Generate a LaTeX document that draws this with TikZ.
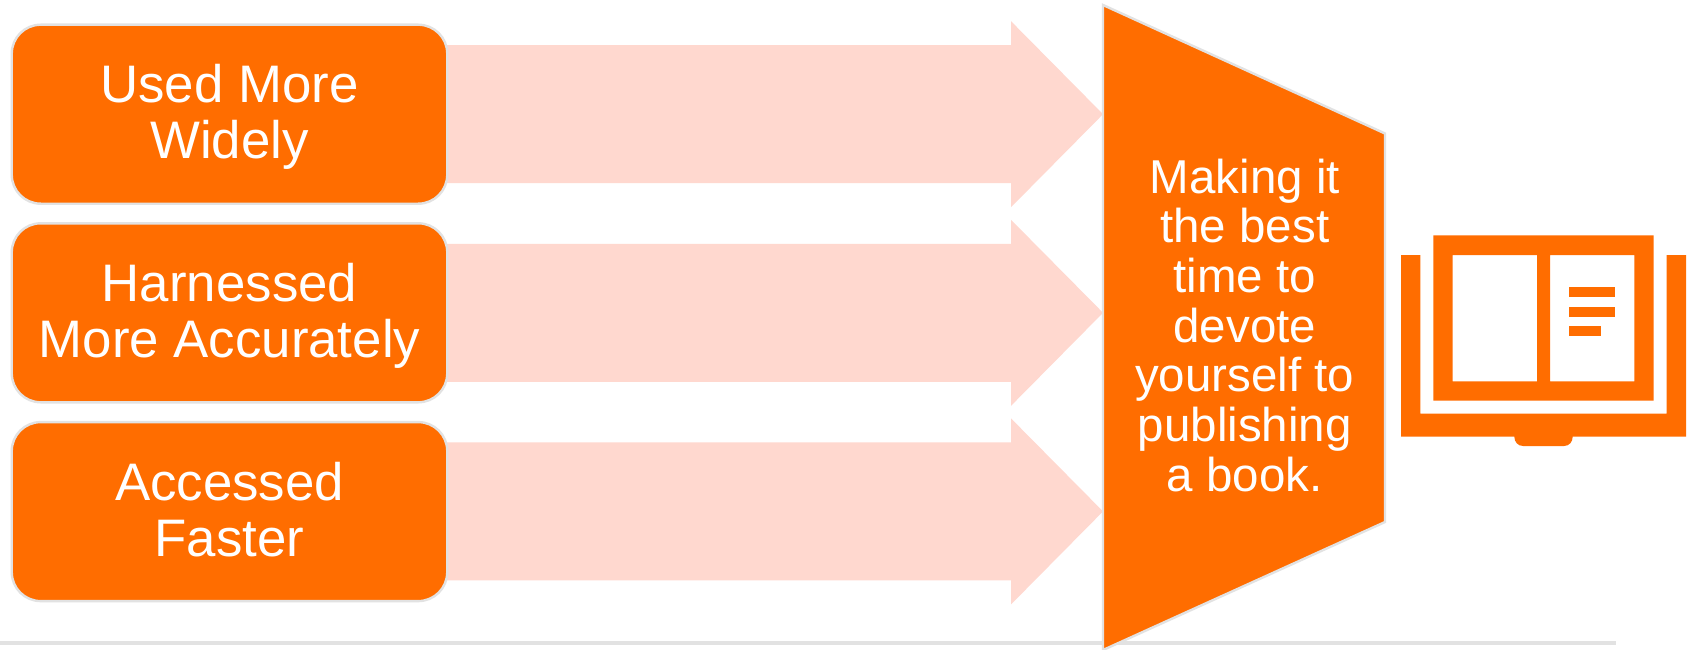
\documentclass[tikz,border=0pt]{standalone}
\usepackage{fontspec}
\setmainfont{Liberation Sans}
\definecolor{mainorange}{HTML}{FF6D00}
\definecolor{softpink}{HTML}{FFD8CF}
\definecolor{edgegray}{HTML}{E2E2E2}
\newcommand{\firstline}{\rule{0pt}{44.4pt}}
\newcommand{\lastline}{\rule[-10pt]{0pt}{10pt}}
\tikzset{
  boxnode/.style={draw=edgegray,line width=2.4pt,fill=mainorange,rounded corners=29pt,minimum width=435.5pt,minimum height=179pt,inner sep=0pt,text=white,align=center,font=\fontsize{52.8}{56}\selectfont},
  arrowshape/.style={fill=softpink,draw=none},
  trapshape/.style={draw=edgegray,line width=2.4pt,fill=mainorange,line join=miter},
  traplabel/.style={text=white,align=center,inner sep=0pt,font=\fontsize{47.5}{49.7}\selectfont},
  bookpart/.style={fill=mainorange,draw=none,even odd rule},
  baseline rule/.style={draw=edgegray,line width=3.2pt}
}
\begin{document}
\begin{tikzpicture}[x=1pt,y=-1pt]
\useasboundingbox (0,0) rectangle (1695,650);
\fill[white] (0,0) rectangle (1695,650);
\coordinate (ruleL) at (0,643);
\coordinate (ruleR) at (1616,643);
\draw[baseline rule] (ruleL) -- (ruleR);
\foreach \d in {114.2,312.8,511.4}{
  \fill[arrowshape] (440,\d-69) -- (1011,\d-69) -- (1011,\d-93) -- (1103,\d) -- (1011,\d+93) -- (1011,\d+69) -- (440,\d+69) -- cycle;
}
\node[boxnode] (boxa) at (229.5,114.2) {\firstline Used More\\Widely\lastline};
\node[boxnode] (boxb) at (229.5,312.8) {\firstline Harnessed\\More Accurately\lastline};
\node[boxnode] (boxc) at (229.5,511.6) {\firstline Accessed\\Faster\lastline};
\path[trapshape] (1103,5) -- (1385,133.5) -- (1385,522) -- (1103,650) -- cycle;
\node[traplabel] (trap) at (1244.8,325.2) {Making it\\the best\\time to\\devote\\yourself to\\publishing\\a book.};
\path[bookpart] (1401,255) -- (1420.3,255) -- (1420.3,413.7) -- (1666.7,413.7) -- (1666.7,255) -- (1686,255) -- (1686,436.7) -- (1572.7,436.7) .. controls (1572.7,442) and (1569,446) .. (1564,446) -- (1523,446) .. controls (1518,446) and (1514.3,442) .. (1514.3,436.7) -- (1401,436.7) -- cycle;
\path[bookpart] (1433.3,235.3) rectangle (1653.7,400.7) (1452.7,255) rectangle (1537,381.3) (1550,255) rectangle (1634.3,381.3);
\fill[mainorange] (1569,287) rectangle (1615,297);
\fill[mainorange] (1569,307) rectangle (1615,316.7);
\fill[mainorange] (1569,326) rectangle (1601,336);
\end{tikzpicture}
\end{document}
